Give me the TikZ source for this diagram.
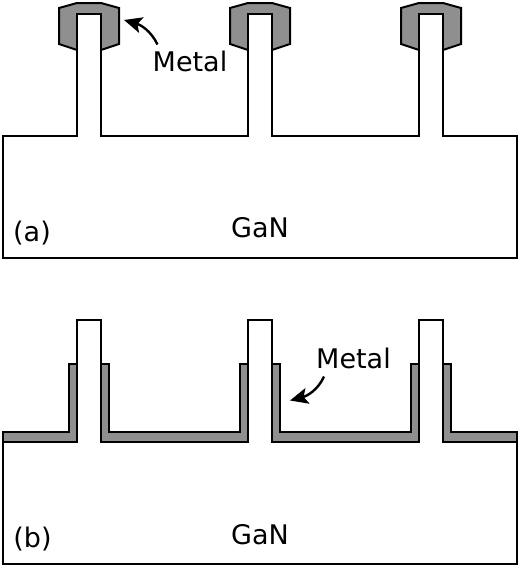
\documentclass[tikz,border=0pt]{standalone}
\usepackage{fontspec}
\setmainfont{DejaVu Sans}
\usepackage{xcolor}
\usetikzlibrary{arrows.meta}
\definecolor{metalgray}{HTML}{8F8F8F}
\tikzset{
  outline/.style={draw=black, line width=1pt, line join=miter, fill=white},
  metal/.style={draw=black, line width=1pt, line join=miter, fill=metalgray},
  label/.style={inner sep=0pt, font=\fontsize{13.5}{16}\selectfont},
  arrow/.style={-{Stealth[length=9pt, width=8pt, inset=2pt]}, line width=1.2pt, draw=black}
}

\begin{document}
\begin{tikzpicture}[x=0.5pt, y=-0.5pt]
  \useasboundingbox (0,0) rectangle (520,568);

  % caps, panel (a)
  \foreach \px in {77,248,419} {
    \draw[metal] (\px,50) -- ++(-18,-6) -- ++(0,-36) -- ++(18,-5) -- ++(24,0) -- ++(18,5) -- ++(0,36) -- ++(-18,6) -- cycle;
  }
  % substrate with fins, panel (a)
  \draw[outline] (3,258) -- (3,136) -- (77,136) -- (77,14) -- (101,14) -- (101,136)
    -- (248,136) -- (248,14) -- (272,14) -- (272,136)
    -- (419,136) -- (419,14) -- (443,14) -- (443,136)
    -- (517,136) -- (517,258) -- cycle;

  % substrate with fins, panel (b)
  \draw[outline] (3,564) -- (3,442) -- (77,442) -- (77,320) -- (101,320) -- (101,442)
    -- (248,442) -- (248,320) -- (272,320) -- (272,442)
    -- (419,442) -- (419,320) -- (443,320) -- (443,442)
    -- (517,442) -- (517,564) -- cycle;
  % metal layer, panel (b)
  \draw[metal] (3,442) -- (3,432) -- (69,432) -- (69,364) -- (77,364) -- (77,442) -- cycle;
  \draw[metal] (101,442) -- (101,364) -- (109,364) -- (109,432) -- (240,432) -- (240,364) -- (248,364) -- (248,442) -- cycle;
  \draw[metal] (272,442) -- (272,364) -- (280,364) -- (280,432) -- (411,432) -- (411,364) -- (419,364) -- (419,442) -- cycle;
  \draw[metal] (443,442) -- (443,364) -- (451,364) -- (451,432) -- (517,432) -- (517,442) -- cycle;

  \node[label] (gana) at (260,228) {GaN};
  \node[label] (taga) at (32,233.5) {(a)};
  \node[label] (ganb) at (260,534.5) {GaN};
  \node[label] (tagb) at (32.5,539.5) {(b)};
  \node[label] (metala) at (190,61) {Metal};
  \node[label] (metalb) at (353.5,358.5) {Metal};

  \coordinate (taila) at (157.5,44.5);
  \coordinate (tipa) at (124,20);
  \coordinate (tailb) at (324,376.5);
  \coordinate (tipb) at (290,400.5);
  \draw[arrow] (taila) .. controls (151,31) and (141,25) .. (tipa);
  \draw[arrow] (tailb) .. controls (318,390) and (307,396) .. (tipb);
\end{tikzpicture}
\end{document}
